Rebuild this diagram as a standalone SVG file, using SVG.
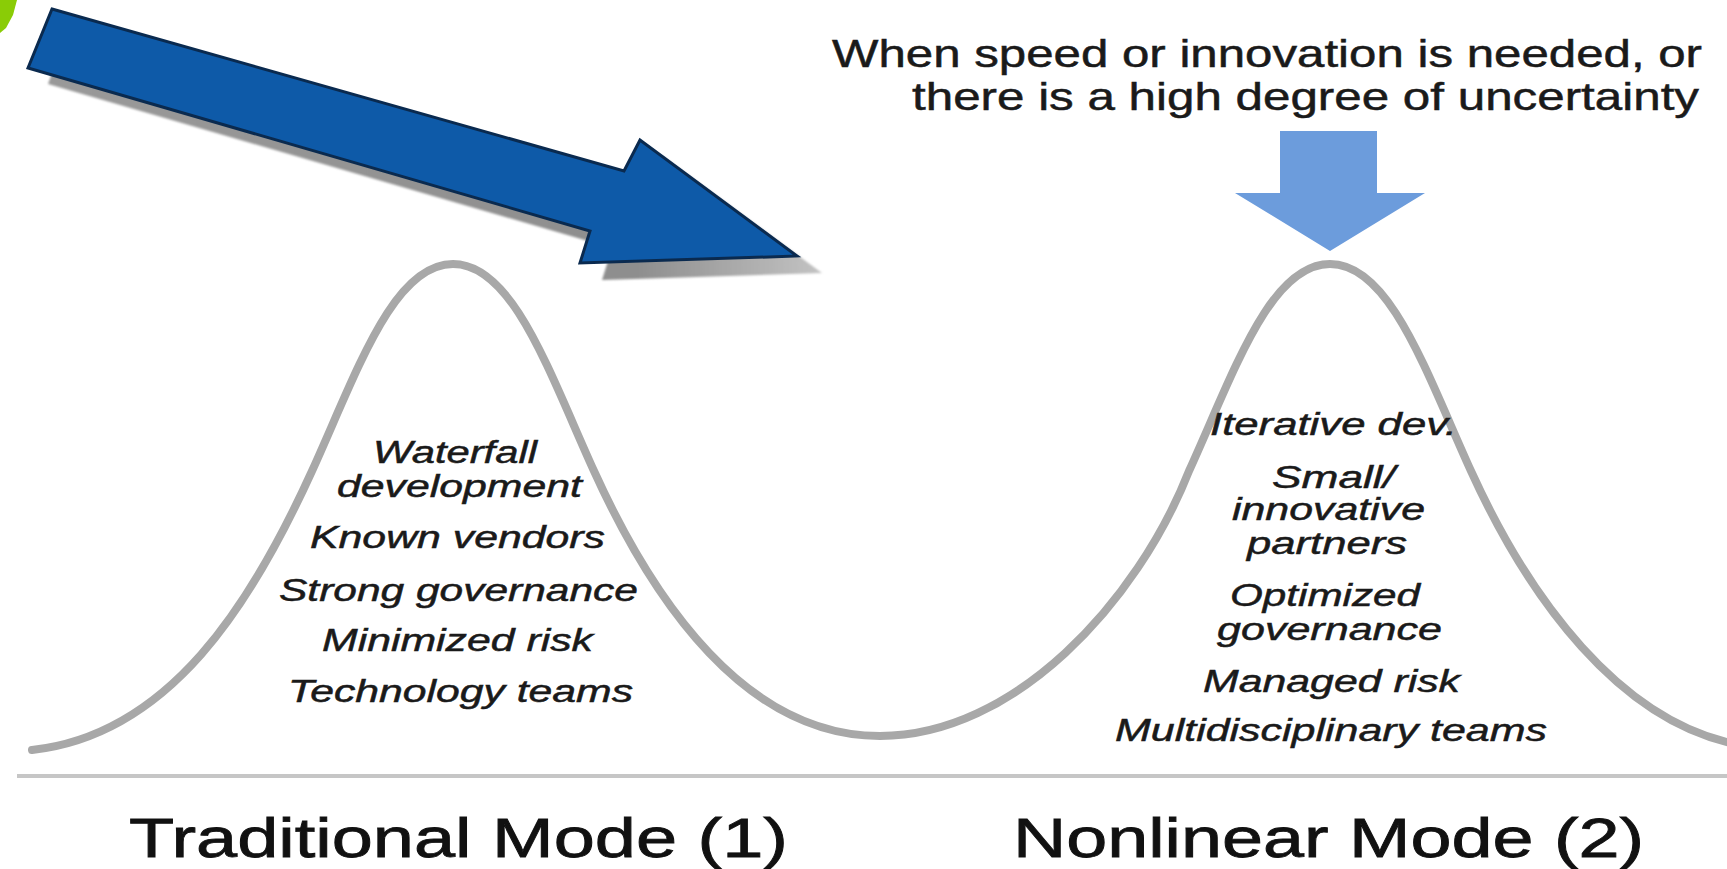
<svg xmlns="http://www.w3.org/2000/svg" width="1727" height="869" viewBox="0 0 1727 869">
<defs>
<style>
.bg{fill:#ffffff}
.curve{fill:none;stroke:#a8a8a8;stroke-width:8;stroke-linecap:round}
.sep{stroke:#c6c6c6;stroke-width:4}
.item{font-family:"Liberation Sans",Arial,sans-serif;font-style:italic;font-size:31px;fill:#1a1a1a;stroke:#1a1a1a;stroke-width:0.5}
.head{font-family:"Liberation Sans",Arial,sans-serif;font-size:39px;fill:#1a1a1a;stroke:#1a1a1a;stroke-width:0.5}
.title{font-family:"Liberation Sans",Arial,sans-serif;font-size:56px;fill:#111111;stroke:#111111;stroke-width:0.8}
.bigarrow{fill:#0e5aa8;stroke:#0a2a4f;stroke-width:3;stroke-linejoin:miter}
.smallarrow{fill:#6c9cdc}
</style>
<linearGradient id="shadowGrad" gradientUnits="userSpaceOnUse" x1="30" y1="0" x2="840" y2="0">
<stop offset="0" stop-color="#9a9a9a"/>
<stop offset="0.75" stop-color="#8e8e8e"/>
<stop offset="1" stop-color="#c8c8c8"/>
</linearGradient>
<filter id="soft" x="-5%" y="-5%" width="110%" height="110%">
<feGaussianBlur stdDeviation="1.2"/>
</filter>
</defs>
<rect class="bg" x="0" y="0" width="1727" height="869"/>

<g id="corner-accent">
<path d="M0,0 L17,0 L13,15 L6,28 L0,33 Z" fill="#8acc06"/>
</g>

<g id="connectors">
<g id="big-arrow">
<polygon points="70,24 646,187 662,156 822,273 602,280 612,248 48,84" fill="url(#shadowGrad)" filter="url(#soft)"/>
<polygon class="bigarrow" points="52,9 624,171 640,140 797,256 580,263 590,231 28,68"/>
</g>
<g id="small-arrow">
<polygon class="smallarrow" points="1280,131 1377,131 1377,193 1425,193 1330,251 1235,193 1280,193"/>
</g>
</g>

<g id="curve">
<path class="curve" d="M32,750 C170,735 252,603 312,471 C357,372 393,264 453,264 C513,264 549,372 594,471 C654,603 746,736 880,736 C1014,736 1137,603 1189,471 C1234,372 1270,264 1330,264 C1390,264 1426,372 1471,471 C1531,603 1620,718 1731,743"/>
<line class="sep" x1="17" y1="776" x2="1727" y2="776"/>
</g>

<g id="condition">
<text class="head" x="832" y="67" textLength="870" lengthAdjust="spacingAndGlyphs">When speed or innovation is needed, or</text>
<text class="head" x="912" y="110" textLength="787" lengthAdjust="spacingAndGlyphs">there is a high degree of uncertainty</text>
</g>

<g id="traditional-mode">
<text class="item" x="373" y="463" textLength="164" lengthAdjust="spacingAndGlyphs">Waterfall</text>
<text class="item" x="337" y="497" textLength="245" lengthAdjust="spacingAndGlyphs">development</text>
<text class="item" x="310" y="548" textLength="295" lengthAdjust="spacingAndGlyphs">Known vendors</text>
<text class="item" x="279" y="601" textLength="359" lengthAdjust="spacingAndGlyphs">Strong governance</text>
<text class="item" x="322" y="651" textLength="271" lengthAdjust="spacingAndGlyphs">Minimized risk</text>
<text class="item" x="288" y="702" textLength="345" lengthAdjust="spacingAndGlyphs">Technology teams</text>
<text class="title" x="129" y="857" textLength="659" lengthAdjust="spacingAndGlyphs">Traditional Mode (1)</text>
</g>

<g id="nonlinear-mode">
<text class="item" x="1210" y="435" textLength="247" lengthAdjust="spacingAndGlyphs">Iterative dev.</text>
<text class="item" x="1272" y="488" textLength="123" lengthAdjust="spacingAndGlyphs">Small/</text>
<text class="item" x="1232" y="520" textLength="193" lengthAdjust="spacingAndGlyphs">innovative</text>
<text class="item" x="1247" y="554" textLength="160" lengthAdjust="spacingAndGlyphs">partners</text>
<text class="item" x="1230" y="606" textLength="190" lengthAdjust="spacingAndGlyphs">Optimized</text>
<text class="item" x="1217" y="640" textLength="225" lengthAdjust="spacingAndGlyphs">governance</text>
<text class="item" x="1203" y="692" textLength="257" lengthAdjust="spacingAndGlyphs">Managed risk</text>
<text class="item" x="1115" y="741" textLength="432" lengthAdjust="spacingAndGlyphs">Multidisciplinary teams</text>
<text class="title" x="1013" y="857" textLength="631" lengthAdjust="spacingAndGlyphs">Nonlinear Mode (2)</text>
</g>
</svg>
